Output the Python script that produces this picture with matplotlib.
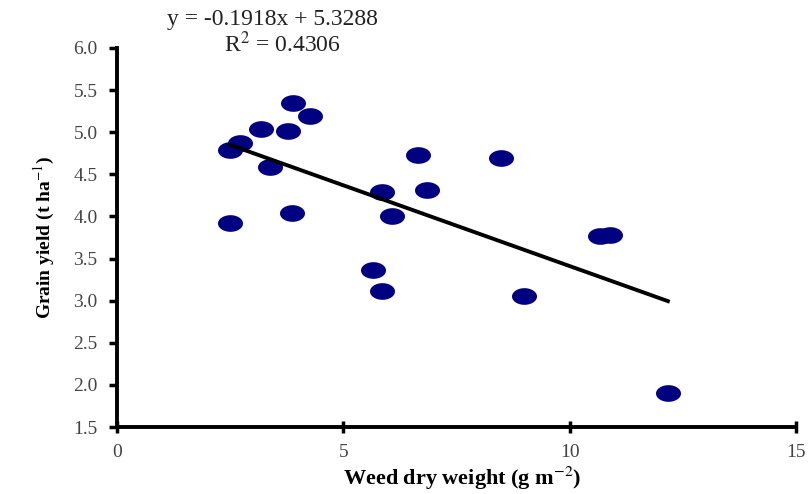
import numpy as np
import matplotlib
matplotlib.use("Agg")
import matplotlib.pyplot as plt
from matplotlib.path import Path

# weed dry weight (g m-2) and grain yield (t ha-1)
weed = [3.89, 4.26, 3.18, 3.78, 2.72, 2.49, 3.38, 2.49, 3.87,
        6.65, 5.85, 6.85, 6.07, 5.65, 5.85, 8.48, 8.99, 10.67, 10.89, 12.17]
grain = [5.35, 5.19, 5.04, 5.01, 4.87, 4.79, 4.59, 3.92, 4.04,
         4.73, 4.29, 4.31, 4.00, 3.36, 3.11, 4.69, 3.05, 3.77, 3.78, 1.90]
slope = -0.1918
intercept = 5.3288
r2 = 0.4306
xticks = [0, 5, 10, 15]
yticks = [1.5, 2.0, 2.5, 3.0, 3.5, 4.0, 4.5, 5.0, 5.5, 6.0]

plt.rcParams['font.family'] = ['Liberation Serif', 'DejaVu Serif']
plt.rcParams['mathtext.fontset'] = 'stix'

# horizontally stretched ellipse marker
t = np.linspace(0, 2*np.pi, 60)
ell = Path(np.column_stack([1.5*np.cos(t), np.sin(t)]), closed=True)

fig = plt.figure(figsize=(8.09, 4.94), dpi=100)
ax = fig.add_axes([117/809, 1-427/494, (796-117)/809, (427-48)/494])

ax.plot(weed, grain, linestyle='none', marker=ell, markersize=18,
        color='#000080', markeredgewidth=0)
xl = np.array([min(weed), max(weed)])
ax.plot(xl, slope*xl + intercept, color='black', lw=2.8)

ax.set_xlim(0, 15)
ax.set_ylim(1.5, 6.0)
ax.set_xticks(xticks)
ax.set_yticks(yticks)
ax.set_yticklabels(['%.1f' % v for v in yticks])
for s in ['top', 'right']:
    ax.spines[s].set_visible(False)
for s in ['left', 'bottom']:
    ax.spines[s].set_linewidth(2.8)
ax.tick_params(axis='x', direction='inout', length=9, width=2.5, labelsize=14,
               labelcolor='#444444', pad=8)
ax.tick_params(axis='y', direction='out', length=6, width=2.5, labelsize=14,
               labelcolor='#444444', pad=8)

# x label placed by hand so it stays inside the canvas
fig.text(462/809, 1-485/494, 'Weed dry weight (g m$^{-2}$)', fontsize=16,
         fontweight='bold', ha='center', va='baseline')
ax.set_ylabel('Grain yield (t ha$^{-1}$)', fontsize=14, fontweight='bold',
              labelpad=12)

fig.text(272/809, 1-20/494, 'y = %.4fx + %.4f' % (slope, intercept),
         ha='center', va='center', fontsize=17, color='#222222')
fig.text(282/809, 1-44/494, 'R$^{2}$ = %.4f' % r2,
         ha='center', va='center', fontsize=17, color='#222222')

fig.savefig('out.png', dpi=100)
